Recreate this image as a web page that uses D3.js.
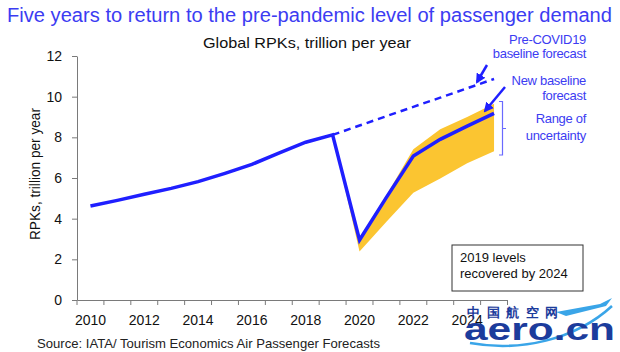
<!DOCTYPE html>
<html>
<head>
<meta charset="utf-8">
<script src="https://cdn.jsdelivr.net/npm/d3@7/dist/d3.min.js"></script>
<style>
  body { margin: 0; background: #fff; }
  svg { display: block; }
  text { font-family: "Liberation Sans", Arial, sans-serif; }
</style>
</head>
<body>
<svg id="chart" width="620" height="352"></svg>
<script>
// years on the category axis
var years = d3.range(2010, 2026)
var xLabels = [2010, 2012, 2014, 2016, 2018, 2020, 2022, 2024]
var yTicks = [0, 2, 4, 6, 8, 10, 12]

// actual RPKs 2010-2019
var histYears = [2010, 2011, 2012, 2013, 2014, 2015, 2016, 2017, 2018, 2019]
var histValues = [4.62, 4.90, 5.20, 5.49, 5.82, 6.23, 6.67, 7.22, 7.76, 8.12]

// forecasts 2019-2025
var fcYears = [2019, 2020, 2021, 2022, 2023, 2024, 2025]
var newBaseline = [8.12, 2.95, 5.05, 7.08, 7.90, 8.55, 9.18]
var preCovid = [8.12, 8.58, 9.04, 9.50, 9.95, 10.41, 10.87]
var rangeLow = [8.12, 2.38, 3.85, 5.28, 5.98, 6.72, 7.32]
var rangeHigh = [8.12, 3.05, 5.15, 7.41, 8.40, 9.00, 9.65]

var blue = '#1f1fff'
var textBlue = '#3c3cf2'
var yellow = '#fbc531'

var svg = d3.select('#chart')

var x = d3.scaleBand().domain(years).range([77, 507.5])
var cx = function (yr) { return x(yr) + x.bandwidth() / 2 }
var y = d3.scaleLinear().domain([0, 12]).range([300, 56])

// titles
svg.append('text')
    .attr('x', 7).attr('y', 22)
    .attr('font-family', 'Inter, "Noto Sans", sans-serif')
    .attr('font-size', 20)
    .attr('fill', textBlue)
    .attr('textLength', 605).attr('lengthAdjust', 'spacingAndGlyphs')
    .text('Five years to return to the pre-pandemic level of passenger demand')

svg.append('text')
    .attr('x', 203).attr('y', 48)
    .attr('font-size', 15)
    .attr('fill', '#111')
    .attr('textLength', 208).attr('lengthAdjust', 'spacingAndGlyphs')
    .text('Global RPKs, trillion per year')

// range of uncertainty
var band = d3.area()
    .x(function (d, i) { return cx(fcYears[i]) })
    .y0(function (d, i) { return y(rangeLow[i]) })
    .y1(function (d, i) { return y(rangeHigh[i]) })
svg.append('path')
    .attr('d', band(fcYears))
    .attr('fill', yellow)

// axes
var yAxis = svg.append('g')
    .attr('transform', 'translate(77,0)')
    .call(d3.axisLeft(y).tickValues(yTicks).tickSize(5).tickPadding(10).tickSizeOuter(0))
yAxis.selectAll('text').attr('font-size', 14).attr('fill', '#111').attr('font-family', '"Liberation Sans", Arial, sans-serif')

var xAxis = svg.append('g')
    .attr('transform', 'translate(0,300)')
    .call(d3.axisBottom(x).tickValues(xLabels).tickSize(0).tickPadding(15).tickSizeOuter(0))
xAxis.selectAll('text').attr('font-size', 14).attr('fill', '#111').attr('font-family', '"Liberation Sans", Arial, sans-serif')
xAxis.selectAll('.xtick')
    .data(years.concat([null]))
    .enter().append('line')
    .attr('class', 'xtick')
    .attr('x1', function (d) { return d === null ? x.range()[1] : x(d) })
    .attr('x2', function (d) { return d === null ? x.range()[1] : x(d) })
    .attr('y1', 0).attr('y2', 5)
svg.selectAll('.domain, .tick line, .xtick').attr('stroke', '#7a7a7a')

svg.append('text')
    .attr('transform', 'translate(40,174) rotate(-90)')
    .attr('text-anchor', 'middle')
    .attr('font-size', 14)
    .attr('fill', '#111')
    .attr('textLength', 132).attr('lengthAdjust', 'spacingAndGlyphs')
    .text('RPKs, trillion per year')

// lines
var line = d3.line()
svg.append('path')
    .attr('d', line(fcYears.map(function (yr, i) { return [cx(yr), y(preCovid[i])] })))
    .attr('fill', 'none').attr('stroke', blue).attr('stroke-width', 2.5)
    .attr('stroke-dasharray', '7,5')

var full = histYears.map(function (yr, i) { return [cx(yr), y(histValues[i])] })
    .concat(fcYears.slice(1).map(function (yr, i) { return [cx(yr), y(newBaseline[i + 1])] }))
svg.append('path')
    .attr('d', line(full))
    .attr('fill', 'none').attr('stroke', blue).attr('stroke-width', 3.5)
    .attr('stroke-linejoin', 'miter')

// annotations
svg.append('defs').append('marker')
    .attr('id', 'head').attr('viewBox', '0 0 10 10')
    .attr('refX', 8).attr('refY', 5)
    .attr('markerWidth', 4).attr('markerHeight', 4)
    .attr('orient', 'auto')
    .append('path').attr('d', 'M0,0L10,5L0,10z').attr('fill', blue)

svg.append('line').attr('x1', 487).attr('y1', 65).attr('x2', 477).attr('y2', 82)
    .attr('stroke', blue).attr('stroke-width', 2.5).attr('marker-end', 'url(#head)')
svg.append('line').attr('x1', 505).attr('y1', 87).attr('x2', 485).attr('y2', 111)
    .attr('stroke', blue).attr('stroke-width', 2.5).attr('marker-end', 'url(#head)')

var notes = [
    ['Pre-COVID19', 44], ['baseline forecast', 58],
    ['New baseline', 85], ['forecast', 100],
    ['Range of', 123], ['uncertainty', 140]
]
svg.selectAll('.note').data(notes).enter().append('text')
    .attr('class', 'note')
    .attr('x', 586).attr('y', function (d) { return d[1] })
    .attr('text-anchor', 'end')
    .attr('font-family', 'Inter, "Noto Sans", sans-serif')
    .attr('font-size', 13)
    .attr('fill', textBlue)
    .attr('letter-spacing', -0.3)
    .text(function (d) { return d[0] })

svg.append('path')
    .attr('d', 'M499,101.5H502.5V155H499M502.5,128.5H506')
    .attr('fill', 'none').attr('stroke', '#6a6aff').attr('stroke-width', 1.2)

// callout box
svg.append('rect')
    .attr('x', 452).attr('y', 245).attr('width', 131).attr('height', 46)
    .attr('fill', '#fff').attr('stroke', '#333').attr('stroke-width', 1)
svg.append('text').attr('x', 460).attr('y', 262).attr('font-size', 13).attr('fill', '#111')
    .text('2019 levels')
svg.append('text').attr('x', 460).attr('y', 278).attr('font-size', 13).attr('fill', '#111')
    .text('recovered by 2024')

// source
svg.append('text')
    .attr('x', 37).attr('y', 348)
    .attr('font-size', 13).attr('fill', '#222')
    .attr('textLength', 343).attr('lengthAdjust', 'spacingAndGlyphs')
    .text('Source: IATA/ Tourism Economics Air Passenger Forecasts')

// watermark
var wm = svg.append('g')
wm.append('path')
    .attr('d', 'M470,343 C520,352 575,340 612,306')
    .attr('fill', 'none').attr('stroke', '#3aa5e8').attr('stroke-width', 2.5)
wm.append('path')
    .attr('d', 'M556,312 L600,304 L612,298 L606,306 L566,316 Z')
    .attr('fill', '#3aa5e8')
wm.append('text')
    .attr('x', 467).attr('y', 317)
    .attr('font-family', '"Noto Sans CJK SC", sans-serif')
    .attr('font-weight', 900).attr('font-size', 13)
    .attr('fill', '#1c3c9c')
    .attr('textLength', 91).attr('lengthAdjust', 'spacing')
    .text('中国航空网')
wm.append('text')
    .attr('x', 464).attr('y', 340)
    .attr('font-family', '"DejaVu Sans", sans-serif')
    .attr('font-weight', 'bold').attr('font-size', 32)
    .attr('fill', '#1c3c9c')
    .attr('textLength', 151).attr('lengthAdjust', 'spacingAndGlyphs')
    .text('aero.cn')
</script>
</body>
</html>
